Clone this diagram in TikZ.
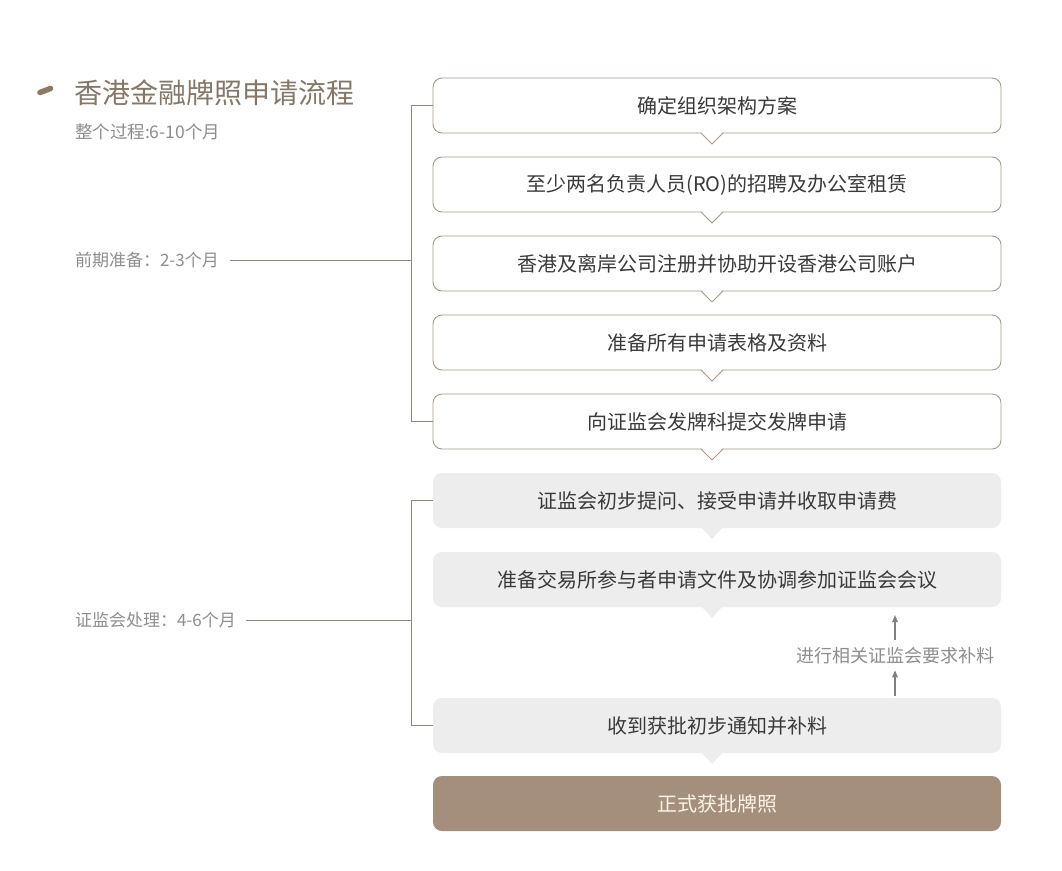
\documentclass[tikz,border=0pt]{standalone}
\usepackage{fontspec}
\setmainfont{Noto Sans CJK SC}
\usetikzlibrary{arrows.meta,calc,positioning}
\definecolor{LicInk}{HTML}{3A3A3A}
\definecolor{LicTitle}{HTML}{857868}
\definecolor{LicMark}{HTML}{8C7A66}
\definecolor{LicMuted}{HTML}{8E8E8E}
\definecolor{LicEdge}{HTML}{A69A8C}
\definecolor{LicRule}{HTML}{8E8780}
\definecolor{LicGrey}{HTML}{EDEDED}
\definecolor{LicBrown}{HTML}{A38F7C}
\definecolor{LicCream}{HTML}{FBF3E6}
\tikzset{
  every node/.style={text=LicInk, inner sep=0pt, outer sep=0pt},
  stepbox/.style={draw=LicEdge, line width=0.9pt, fill=white, rounded corners=9pt,
    minimum width=568pt, minimum height=55pt, font=\fontsize{20}{23}\selectfont},
  reviewbox/.style={stepbox, draw=none, fill=LicGrey},
  finalbox/.style={stepbox, draw=none, fill=LicBrown, text=LicCream},
  sidelabel/.style={anchor=west, text=LicMuted, font=\fontsize{17}{20}\selectfont},
  bracket/.style={draw=LicRule, line width=0.9pt},
  feedback/.style={-{Triangle[length=7pt,width=5.5pt]}, draw=LicMuted!90!black, line width=1.2pt},
}
\begin{document}
\begin{tikzpicture}[x=1pt,y=-1pt]
  \useasboundingbox[fill=white] (0,0) rectangle (1062,870);
  % Title
  \draw[LicMark, line width=5.5pt, line cap=round] (40,92.5) -- (50.5,88.5);
  \node[anchor=west, text=LicTitle, font=\fontsize{28}{32}\selectfont] (title) at (74,93) {香港金融牌照申请流程};
  \node[sidelabel, font=\fontsize{17.5}{20}\selectfont] (span) at (75,132) {整个过程:6-10个月};
  % Steps
  \node[stepbox] (s1) at (717,105.5) {确定组织架构方案};
  \node[stepbox, below=24pt of s1] (s2) {至少两名负责人员(RO)的招聘及办公室租赁};
  \node[stepbox, below=24pt of s2] (s3) {香港及离岸公司注册并协助开设香港公司账户};
  \node[stepbox, below=24pt of s3] (s4) {准备所有申请表格及资料};
  \node[stepbox, below=24pt of s4] (s5) {向证监会发牌科提交发牌申请};
  \node[reviewbox, below=24pt of s5] (s6) {证监会初步提问、接受申请并收取申请费};
  \node[reviewbox, below=24pt of s6] (s7) {准备交易所参与者申请文件及协调参加证监会会议};
  \node[reviewbox, below=91pt of s7] (s8) {收到获批初步通知并补料};
  \node[finalbox, below=23pt of s8] (s9) {正式获批牌照};
  % Pointers under the boxes
  \foreach \b in {s1,s2,s3,s4,s5}{
    \fill[white] ($(\b.south)+(-16,-1.5)$) -- ($(\b.south)+(-5,10)$) -- ($(\b.south)+(6,-1.5)$) -- cycle;
    \draw[LicEdge, line width=0.9pt] ($(\b.south)+(-16,0)$) -- ($(\b.south)+(-5,11)$) -- ($(\b.south)+(6,0)$);
  }
  \foreach \b in {s6,s7,s8}
    \fill[LicGrey] ($(\b.south)+(-16,-1)$) -- ($(\b.south)+(-5,11)$) -- ($(\b.south)+(6,-1)$) -- cycle;
  % Phase brackets
  \coordinate (rail) at (411,0);
  \draw[bracket] (s1.west) -- (s1.west -| rail) -- (s5.west -| rail) -- (s5.west);
  \draw[bracket] (s6.west) -- (s6.west -| rail) -- (s8.west -| rail) -- (s8.west);
  \node[sidelabel] (prep) at (75,260) {前期准备：2-3个月};
  \node[sidelabel] (review) at (75,620) {证监会处理：4-6个月};
  \draw[bracket, shorten <=11pt] (prep.east) -- (prep.east -| rail);
  \draw[bracket, shorten <=10pt] (review.east) -- (review.east -| rail);
  % Supplementary loop
  \node[text=LicMuted, font=\fontsize{18}{21}\selectfont] (more) at (895,656) {进行相关证监会要求补料};
  \draw[feedback, shorten <=2pt, shorten >=6pt] (s8.north -| more) -- (more.south);
  \draw[feedback, shorten <=8pt, shorten >=8pt] (more.north) -- (s7.south -| more);
\end{tikzpicture}
\end{document}
